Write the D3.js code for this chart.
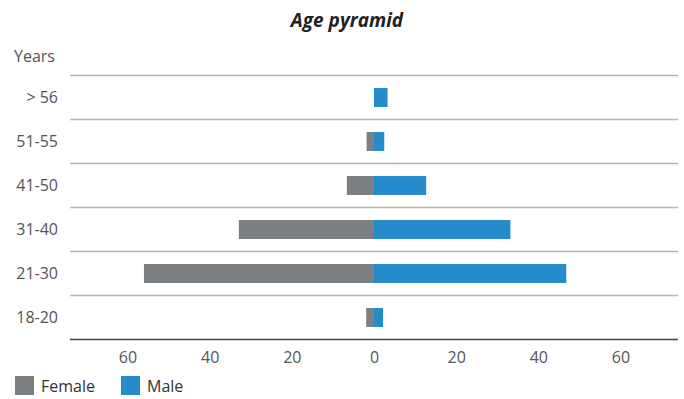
<!DOCTYPE html>
<html>
<head>
<meta charset="utf-8">
<script src="https://cdn.jsdelivr.net/npm/d3@7"></script>
<style>
  html, body { margin: 0; padding: 0; background: #fff; }
  svg { display: block; font-family: "Open Sans", "Noto Sans", sans-serif; }
</style>
</head>
<body>
<svg id="chart" width="684" height="399"></svg>
<script>
// Age groups, oldest on top
const ageGroups = ["> 56", "51-55", "41-50", "31-40", "21-30", "18-20"];
const femaleCounts = [0, 1.8, 6.6, 32.9, 56, 1.9];
const maleCounts = [3.3, 2.5, 12.7, 33.2, 46.8, 2.2];
const tickValues = [-60, -40, -20, 0, 20, 40, 60];
const seriesNames = ["Female", "Male"];
const seriesColors = ["#7b7f82", "#268bca"];

const svg = d3.select("#chart");
const plot = { left: 70, right: 678, top: 75.5, bottom: 339.5 };
const labelSize = 16;

const x = d3.scaleLinear().domain([-74, 74]).range([plot.left, plot.right]);
const y = d3.scaleBand().domain(ageGroups).range([plot.top, plot.bottom]).padding(0);
const barH = y.bandwidth() * 0.43;

// Title
svg.append("text")
  .attr("x", 347).attr("y", 27)
  .attr("text-anchor", "middle")
  .attr("font-size", 19).attr("font-weight", "bold").attr("font-style", "italic")
  .attr("fill", "#222")
  .text("Age pyramid");

// Y axis caption
svg.append("text")
  .attr("x", 14).attr("y", 62)
  .attr("font-size", labelSize).attr("fill", "#555")
  .text("Years");

// Horizontal grid lines at row boundaries
const bounds = ageGroups.map(d => y(d));
svg.append("g").selectAll("line").data(bounds).join("line")
  .attr("x1", plot.left).attr("x2", plot.right)
  .attr("y1", d => d).attr("y2", d => d)
  .attr("stroke", "#b5b5b5").attr("stroke-width", 1.6);

// Bars
const bars = svg.append("g");
bars.selectAll("rect.female").data(ageGroups).join("rect")
  .attr("class", "female")
  .attr("x", (d, i) => x(-femaleCounts[i]))
  .attr("width", (d, i) => x(0) - x(-femaleCounts[i]))
  .attr("y", d => y(d) + (y.bandwidth() - barH) / 2)
  .attr("height", barH)
  .attr("fill", seriesColors[0]);
bars.selectAll("rect.male").data(ageGroups).join("rect")
  .attr("class", "male")
  .attr("x", x(0))
  .attr("width", (d, i) => x(maleCounts[i]) - x(0))
  .attr("y", d => y(d) + (y.bandwidth() - barH) / 2)
  .attr("height", barH)
  .attr("fill", seriesColors[1]);

// Category labels
svg.append("g").selectAll("text").data(ageGroups).join("text")
  .attr("x", 58)
  .attr("y", d => y(d) + y.bandwidth() / 2 + 5.5)
  .attr("text-anchor", "end")
  .attr("font-size", labelSize).attr("fill", "#555")
  .text(d => d);

// Bottom axis
const xAxis = d3.axisBottom(x).tickValues(tickValues).tickSize(0).tickPadding(12)
  .tickFormat(d => Math.abs(d));
const ax = svg.append("g").attr("transform", `translate(0,${plot.bottom})`).call(xAxis);
ax.select(".domain").attr("stroke", "#444").attr("stroke-width", 1.5)
  .attr("d", `M${plot.left},0H${plot.right}`);
ax.selectAll("text").attr("font-size", labelSize).attr("fill", "#555")
  .attr("font-family", "'Open Sans', 'Noto Sans', sans-serif");

// Legend
const legend = svg.append("g").attr("transform", "translate(15,376)");
const legendX = [0, 106];
seriesNames.forEach((name, i) => {
  const g = legend.append("g").attr("transform", `translate(${legendX[i]},0)`);
  g.append("rect").attr("width", 19).attr("height", 19).attr("fill", seriesColors[i]);
  g.append("text").attr("x", 26).attr("y", 15.5)
    .attr("font-size", labelSize).attr("fill", "#333").text(name);
});
</script>
</body>
</html>
